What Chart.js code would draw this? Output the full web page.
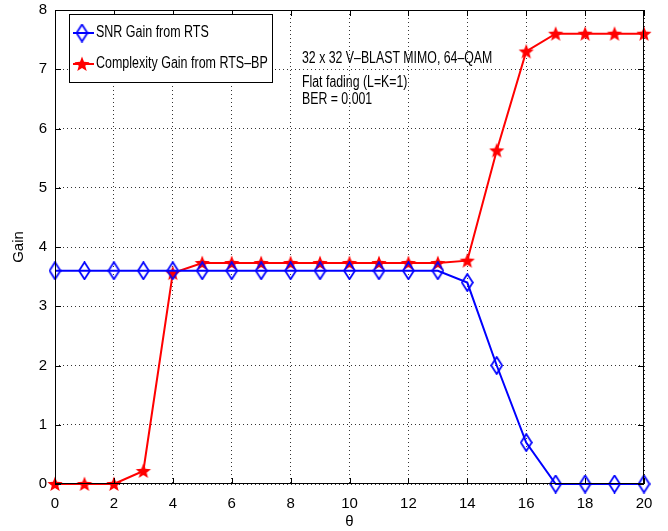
<!DOCTYPE html>
<html>
<head>
<meta charset="utf-8">
<script src="https://cdn.jsdelivr.net/npm/chart.js@4"></script>
<style>
  html, body { margin: 0; padding: 0; background: #fff; }
  #wrap { width: 668px; height: 531px; }
</style>
</head>
<body>
<div id="wrap"><canvas id="gainChart" width="668" height="531"></canvas></div>
<script>
// data
const thetaValues = [0, 1, 2, 3, 4, 5, 6, 7, 8, 9, 10, 11, 12, 13, 14, 15, 16, 17, 18, 19, 20];
const snrGain = [3.6, 3.6, 3.6, 3.6, 3.6, 3.6, 3.6, 3.6, 3.6, 3.6, 3.6, 3.6, 3.6, 3.6, 3.4, 2.0, 0.7, 0, 0, 0, 0];
const complexityGain = [0, 0, 0, 0.22, 3.56, 3.73, 3.73, 3.73, 3.73, 3.73, 3.73, 3.73, 3.73, 3.73, 3.77, 5.63, 7.3, 7.6, 7.6, 7.6, 7.6];
const seriesLabels = ["SNR Gain from RTS", "Complexity Gain from RTS\u2013BP"];
const noteLines = ["32 x 32 V\u2013BLAST MIMO, 64\u2013QAM", "Flat fading (L=K=1)", "BER = 0.001"];

const FONT = "'Liberation Sans', Arial, sans-serif";

// marker images (MATLAB style diamond and filled star)
function makeDiamond(color) {
  const c = document.createElement("canvas");
  c.width = 13; c.height = 19;
  const g = c.getContext("2d");
  g.strokeStyle = color;
  g.lineWidth = 1.8;
  g.beginPath();
  g.moveTo(6.5, 1); g.lineTo(12, 9.5); g.lineTo(6.5, 18); g.lineTo(1, 9.5); g.closePath();
  g.stroke();
  return c;
}

function makeStar(color) {
  const c = document.createElement("canvas");
  c.width = 18; c.height = 18;
  const g = c.getContext("2d");
  g.fillStyle = color;
  g.beginPath();
  for (let i = 0; i < 10; i++) {
    const r = i % 2 === 0 ? 8 : 3.4;
    const a = -Math.PI / 2 + i * Math.PI / 5;
    const px = 9 + r * Math.cos(a), py = 9.6 + r * Math.sin(a);
    if (i === 0) g.moveTo(px, py); else g.lineTo(px, py);
  }
  g.closePath();
  g.fill();
  return c;
}

const diamondImg = makeDiamond("#0000ff");
const starImg = makeStar("#ff0000");

// tall, narrow text like the original figure's font
function narrowText(ctx, text, x, y, size, sx) {
  ctx.save();
  ctx.translate(x, y);
  ctx.scale(sx, 1);
  ctx.font = size + "px " + FONT;
  ctx.textBaseline = "middle";
  ctx.fillStyle = "#000";
  ctx.fillText(text, 0, 0);
  ctx.restore();
}

// frame, inward ticks, legend box and note text
const decorPlugin = {
  id: "decor",
  afterDatasetsDraw(chart) {
    const ctx = chart.ctx;
    const a = chart.chartArea;
    const xs = chart.scales.x, ys = chart.scales.y;
    ctx.save();
    ctx.strokeStyle = "#000";
    ctx.lineWidth = 1;
    ctx.strokeRect(a.left + 0.5, a.top + 0.5, a.right - a.left - 1, a.bottom - a.top - 1);
    ctx.beginPath();
    xs.ticks.forEach(t => {
      const px = Math.round(xs.getPixelForValue(t.value)) + 0.5;
      ctx.moveTo(px, a.bottom); ctx.lineTo(px, a.bottom - 6);
      ctx.moveTo(px, a.top); ctx.lineTo(px, a.top + 6);
    });
    ys.ticks.forEach(t => {
      const py = Math.round(ys.getPixelForValue(t.value)) + 0.5;
      ctx.moveTo(a.left, py); ctx.lineTo(a.left + 6, py);
      ctx.moveTo(a.right, py); ctx.lineTo(a.right - 6, py);
    });
    ctx.stroke();

    // legend
    const lx = 69, ly = 14, lw = 203, lh = 68;
    ctx.fillStyle = "#fff";
    ctx.fillRect(lx, ly, lw, lh);
    ctx.strokeRect(lx + 0.5, ly + 0.5, lw, lh);
    const rows = [
      { y: ly + 19, color: "#0000ff", img: diamondImg, text: seriesLabels[0] },
      { y: ly + 50, color: "#ff0000", img: starImg, text: seriesLabels[1] }
    ];
    rows.forEach(r => {
      ctx.strokeStyle = r.color;
      ctx.lineWidth = 2;
      ctx.beginPath();
      ctx.moveTo(lx + 4, r.y); ctx.lineTo(lx + 25, r.y);
      ctx.stroke();
      ctx.drawImage(r.img, lx + 13 - r.img.width / 2, r.y - r.img.height / 2);
      narrowText(ctx, r.text, lx + 27, r.y, 16, 0.78);
    });

    // annotation
    narrowText(ctx, noteLines[0], 302, 59, 16, 0.77);
    narrowText(ctx, noteLines[1], 302, 83, 16, 0.77);
    narrowText(ctx, noteLines[2], 302, 100, 16, 0.77);
    ctx.restore();
  }
};

const ctx = document.getElementById("gainChart").getContext("2d");
const gainChart = new Chart(ctx, {
  type: "line",
  data: {
    datasets: [
      {
        label: seriesLabels[0],
        data: thetaValues.map((t, i) => ({ x: t, y: snrGain[i] })),
        borderColor: "#0000ff",
        borderWidth: 2,
        pointStyle: diamondImg,
        tension: 0
      },
      {
        label: seriesLabels[1],
        data: thetaValues.map((t, i) => ({ x: t, y: complexityGain[i] })),
        borderColor: "#ff0000",
        borderWidth: 2,
        pointStyle: starImg,
        tension: 0
      }
    ]
  },
  options: {
    responsive: false,
    animation: false,
    clip: false,
    layout: { padding: { top: 10, right: 24, left: 0, bottom: 0 } },
    plugins: { legend: { display: false }, tooltip: { enabled: false } },
    scales: {
      x: {
        type: "linear",
        min: 0,
        max: 20,
        ticks: { stepSize: 2, color: "#000", font: { size: 15, family: FONT }, padding: 11 },
        grid: { color: "#000", lineWidth: 0.8, drawTicks: false },
        border: { display: false, dash: [1, 3] },
        title: { display: true, text: "\u03b8", color: "#000", font: { size: 15, family: FONT }, padding: 0 },
        afterFit(scale) {
          scale.height = 47;
          scale.paddingLeft = 0;
          scale.paddingRight = 0;
        }
      },
      y: {
        min: 0,
        max: 8,
        ticks: { stepSize: 1, color: "#000", font: { size: 15, family: FONT }, padding: 8 },
        grid: { color: "#000", lineWidth: 0.8, drawTicks: false },
        border: { display: false, dash: [1, 3] },
        title: { display: true, text: "Gain", color: "#000", font: { size: 15, family: FONT }, padding: { top: 10, bottom: 0 } },
        afterFit(scale) {
          scale.width = 55;
          scale.paddingTop = 0;
          scale.paddingBottom = 0;
        }
      }
    }
  },
  plugins: [decorPlugin]
});
</script>
</body>
</html>
